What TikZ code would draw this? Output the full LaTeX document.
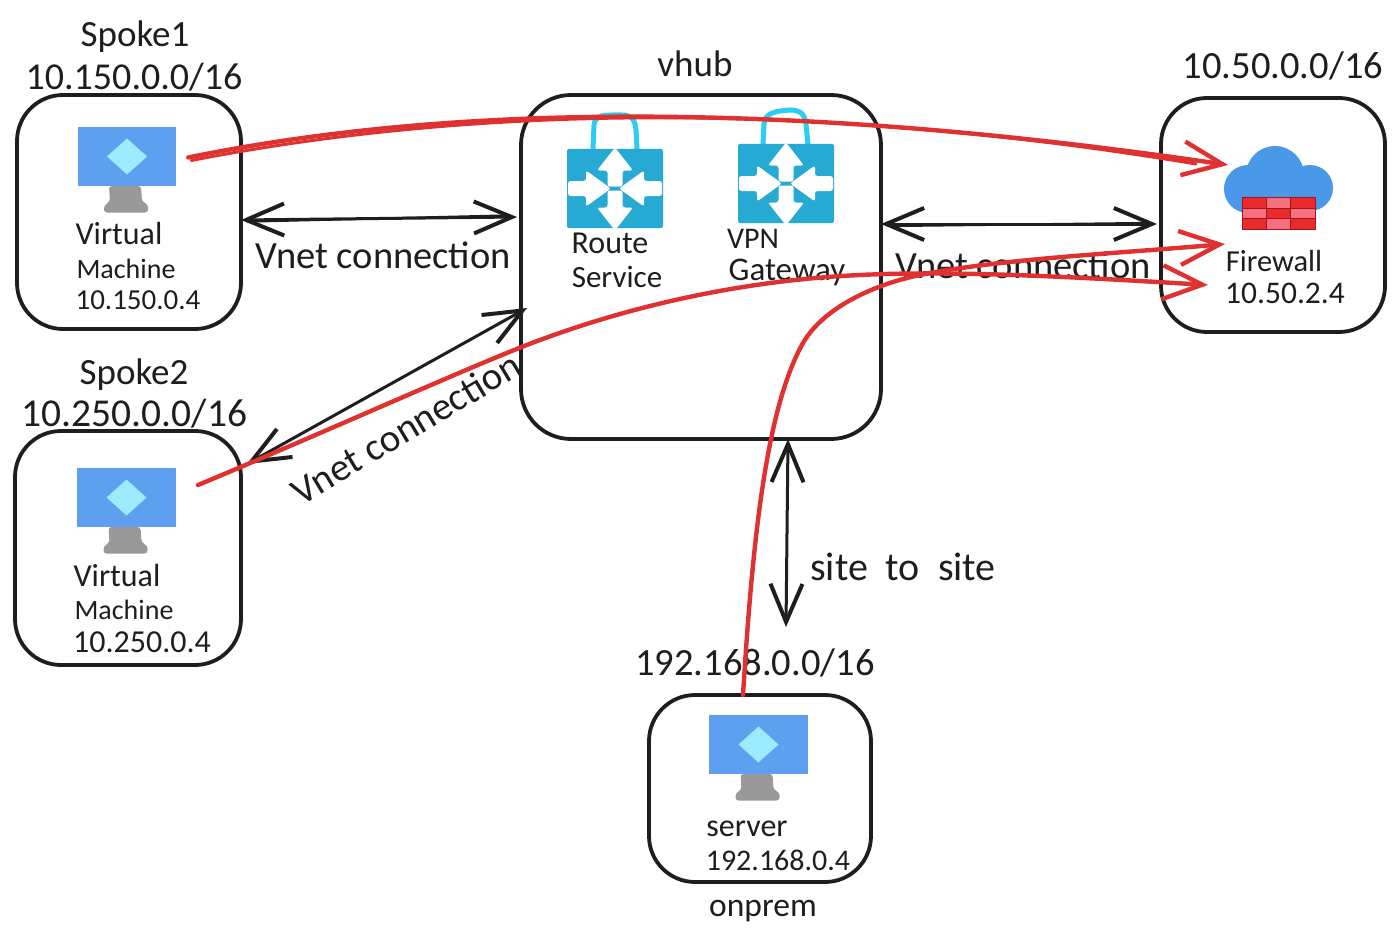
\documentclass[tikz,border=0pt]{standalone}
\usepackage{fontspec}
\setmainfont{Carlito}
\usetikzlibrary{arrows.meta}
\definecolor{inkblk}{HTML}{1E1E1E}
\definecolor{redln}{HTML}{E03131}
\definecolor{screenblue}{HTML}{5EA0EF}
\definecolor{diamondblue}{HTML}{9CEBFF}
\definecolor{standgray}{HTML}{999999}
\definecolor{routerblue}{HTML}{26A9D3}
\definecolor{handleblue}{HTML}{2CCDF2}
\definecolor{cloudblue}{HTML}{4A98E8}
\definecolor{brickred}{HTML}{E92A2A}
\definecolor{brickpink}{HTML}{F5717F}
\definecolor{brickedge}{HTML}{A5141C}
\newcommand{\fs}[1]{\fontsize{#1}{#1}\selectfont}
\tikzset{
  boxnode/.style={draw=inkblk,line width=3.8pt,rounded corners=46pt,fill=white,inner sep=0pt,outer sep=0pt},
  txt/.style={text=inkblk,inner sep=0pt},
  blackarrow/.style={draw=inkblk,line width=3pt,line cap=round,{Straight Barb[length=38pt,width=32pt,line width=4pt]}-{Straight Barb[length=38pt,width=32pt,line width=4pt]}},
  blackline/.style={draw=inkblk,line width=2.2pt,line cap=round},
  redarrow/.style={draw=redln,line width=4.4pt,line cap=round,-{Straight Barb[length=40pt,width=34pt,line width=4.4pt]}},
  redline/.style={draw=redln,line width=3pt,line cap=round},
  screennode/.style={fill=screenblue,minimum width=98.5pt,minimum height=59pt,inner sep=0pt,outer sep=0pt},
  routernode/.style={fill=routerblue,rounded corners=2pt,minimum width=96pt,minimum height=79pt,inner sep=0pt,outer sep=0pt},
  handle/.style={draw=handleblue,line width=5pt},
  whitearrow/.style={fill=white,rounded corners=2.5pt},
  brick/.style={draw=brickedge,line width=1pt}
}
\newcommand{\vmicon}[3]{%
  \node[screennode] (#1) at (#2,#3) {};
  \fill[diamondblue] (#2-20,#3) -- (#2,#3-18) -- (#2+20,#3) -- (#2,#3+18) -- cycle;
  \fill[standgray,rounded corners=3pt] (#2-18,#3+29.5) -- (#2+14,#3+29.5) -- (#2+15,#3+45) -- (#2+21,#3+48) -- (#2+21,#3+56) -- (#2-23,#3+56) -- (#2-23,#3+49) -- (#2-17,#3+45) -- cycle;
}
\newcommand{\routericon}[3]{%
  \node[routernode] (#1) at (#2,#3) {};
  \begin{scope}[shift={(#2,#3)}]
    \fill[whitearrow] (0,-41) -- (18,-18) -- (7.5,-18) -- (7.5,-2) -- (-7.5,-2) -- (-7.5,-18) -- (-18,-18) -- cycle;
    \fill[whitearrow] (0,42) -- (18,19) -- (7.5,19) -- (7.5,2) -- (-7.5,2) -- (-7.5,19) -- (-18,19) -- cycle;
    \fill[whitearrow] (-4,0) -- (-29,-18) -- (-29,-7.5) -- (-47,-7.5) -- (-47,7.5) -- (-29,7.5) -- (-29,18) -- cycle;
    \fill[whitearrow] (4,0) -- (29,-18) -- (29,-7.5) -- (47,-7.5) -- (47,7.5) -- (29,7.5) -- (29,18) -- cycle;
  \end{scope}
}
\begin{document}
\begin{tikzpicture}[x=1pt,y=-1pt]
\useasboundingbox (0,0) rectangle (1400,947);
\fill[white] (0,0) rectangle (1400,947);

% boxes
\node[boxnode,minimum width=224pt,minimum height=234pt] (spokeone) at (129,212) {};
\node[boxnode,minimum width=226pt,minimum height=234pt] (spoketwo) at (128,548) {};
\node[boxnode,minimum width=360pt,minimum height=344pt,rounded corners=50pt] (vhub) at (701,267) {};
\node[boxnode,minimum width=224pt,minimum height=234pt] (fwbox) at (1273,215) {};
\node[boxnode,minimum width=222pt,minimum height=187pt] (onprembox) at (760,788.5) {};

% VM icons
\vmicon{vmone}{127}{156.5}
\vmicon{vmtwo}{126.5}{497.5}
\vmicon{vmthree}{758.5}{744.5}

% router icons
\draw[handle] (593,149) -- (594,125) .. controls (595,117) and (600,115) .. (612,115) -- (622,115) .. controls (632,115) and (635,120) .. (636,130) -- (637,149);
\routericon{routesvc}{615}{188.5}
\draw[handle] (763,144) -- (764,124) .. controls (765,113) and (775,111) .. (790,110) .. controls (800,110) and (805,114) .. (806,124) -- (808,144);
\routericon{vpngw}{786}{183.5}

% firewall icon
\fill[cloudblue] (1248,189) circle (24);
\fill[cloudblue] (1275,175) circle (29);
\fill[cloudblue] (1310,188) circle (23);
\fill[cloudblue] (1248,185) rectangle (1310,210.5);
\draw[brick,fill=brickred]  (1242,197) rectangle (1266.5,208);
\draw[brick,fill=brickpink] (1266.5,197) rectangle (1290,208);
\draw[brick,fill=brickred]  (1290,197) rectangle (1315,208);
\draw[brick,fill=brickpink] (1242,208) rectangle (1266.5,218);
\draw[brick,fill=brickred]  (1266.5,208) rectangle (1290,218);
\draw[brick,fill=brickpink] (1290,208) rectangle (1315,218);
\draw[brick,fill=brickred]  (1242,218) rectangle (1266.5,229);
\draw[brick,fill=brickpink] (1266.5,218) rectangle (1290,229);
\draw[brick,fill=brickred]  (1290,218) rectangle (1315,229);

% labels
\node[txt,font=\fs{37}] (spokeonename) at (135,37) {Spoke1};
\node[txt,font=\fs{38}] (spokeonecidr) at (134,77) {10.150.0.0/16};
\node[txt,font=\fs{37}] (spoketwoname) at (134,375) {Spoke2};
\node[txt,font=\fs{39.5}] (spoketwocidr) at (134.5,414) {10.250.0.0/16};
\node[txt,font=\fs{37}] (vhubname) at (695,64) {vhub};
\node[txt,font=\fs{38.5}] (fwcidr) at (1283,66) {10.50.0.0/16};
\node[txt,font=\fs{38.5}] (onpremcidr) at (755,663) {192.168.0.0/16};
\node[txt,font=\fs{33.5}] (onpremname) at (763,911) {onprem};

\node[txt,font=\fs{32}] (vmonea) at (119,234) {Virtual};
\node[txt,font=\fs{28}] (vmoneb) at (126,269) {Machine};
\node[txt,font=\fs{29}] (vmonec) at (138,300) {10.150.0.4};
\node[txt,font=\fs{32}] (vmtwoa) at (117,576) {Virtual};
\node[txt,font=\fs{28}] (vmtwob) at (124,610) {Machine};
\node[txt,font=\fs{32}] (vmtwoc) at (142,642) {10.250.0.4};
\node[txt,font=\fs{32}] (rsa) at (610,243) {Route};
\node[txt,font=\fs{31}] (rsb) at (617,277) {Service};
\node[txt,font=\fs{30}] (vpna) at (753,239) {VPN};
\node[txt,font=\fs{33}] (vpnb) at (787,272) {Gateway};
\node[txt,font=\fs{30.5}] (fwa) at (1274,261) {Firewall};
\node[txt,font=\fs{31.5}] (fwb) at (1285,293) {10.50.2.4};
\node[txt,font=\fs{32}] (srva) at (747,829) {server};
\node[txt,font=\fs{30}] (srvb) at (778,860) {192.168.0.4};

\node[txt,font=\fs{38.5}] (vnetone) at (383,255) {Vnet connection};
\node[txt,font=\fs{38.5}] (vnettwo) at (1023,265) {Vnet connection};
\node[txt,font=\fs{39},rotate=31] (vnetthree) at (406,428) {Vnet connection};
\node[txt,font=\fs{40}] (sitelabel) at (903,567) {site\hspace{0.45em}to\hspace{0.45em}site};

% black connectors
\coordinate (aonea) at ([yshift=-8pt]spokeone.east);
\coordinate (aoneb) at ([yshift=50pt,xshift=-4pt]vhub.west);
\draw[blackarrow] (aonea) -- (aoneb);
\draw[blackline] ([yshift=-1.5pt,xshift=12pt]aonea) -- ([yshift=1.5pt,xshift=-12pt]aoneb);

\coordinate (atwoa) at ([yshift=43pt]vhub.east);
\coordinate (atwob) at ([yshift=-9pt,xshift=-4pt]fwbox.west);
\draw[blackarrow] (atwoa) -- (atwob);
\draw[blackline] ([yshift=-2pt,xshift=12pt]atwoa) -- ([yshift=1pt,xshift=-12pt]atwob);

\coordinate (athreea) at (247,464);
\coordinate (athreeb) at (527,308);
\draw[blackarrow] (athreea) -- (athreeb);

\coordinate (afoura) at ([xshift=87pt]vhub.south);
\coordinate (afourb) at (786,627);
\draw[blackarrow] (afoura) -- (afourb);

% red connectors
\coordinate (redones) at ([xshift=12pt,yshift=-1pt]vmone.east);
\coordinate (redonee) at (1228,165);
\draw[redarrow] (redones) .. controls (460,102) and (800,102) .. (redonee);
\draw[redline] ([xshift=3pt,yshift=-3pt]redones) .. controls (460,108) and (800,98) .. ([xshift=-32pt,yshift=1pt]redonee);

\coordinate (redtwos) at ([xshift=-43pt,yshift=63pt]spoketwo.east);
\coordinate (redtwob) at (540,340);
\coordinate (redtwom) at (860,275);
\coordinate (redtwoe) at (1208,285);
\draw[redarrow] (redtwos) .. controls (330,430) and (480,362) .. (redtwob) .. controls (640,303) and (750,280) .. (redtwom) .. controls (960,270) and (1090,278) .. (redtwoe);

\coordinate (redthrees) at ([xshift=-17pt]onprembox.north);
\coordinate (redthreem) at (803,343);
\coordinate (redthreen) at (920,275);
\coordinate (redthreee) at (1225,244);
\draw[redarrow] (redthrees) .. controls (752,550) and (765,410) .. (redthreem) .. controls (825,305) and (880,283) .. (redthreen) .. controls (1000,259) and (1110,254) .. (redthreee);
\end{tikzpicture}
\end{document}
